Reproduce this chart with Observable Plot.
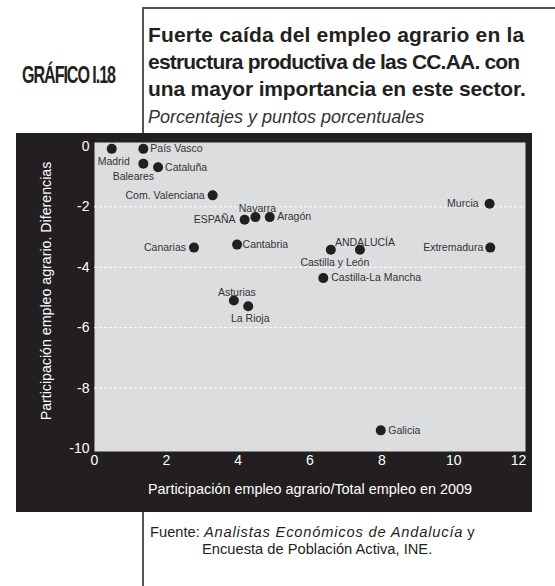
<!DOCTYPE html>
<html>
<head>
<meta charset="utf-8">
<script src="https://cdn.jsdelivr.net/npm/d3@7"></script>
<script src="https://cdn.jsdelivr.net/npm/@observablehq/plot@0.6"></script>
<style>
  html, body { margin: 0; padding: 0; background: #ffffff; }
  body { width: 555px; height: 586px; position: relative; overflow: hidden; font-family: "Liberation Sans", Arial, sans-serif; }
  .abs { position: absolute; }
  #box { left: 142px; top: 7px; width: 500px; height: 126px; border-left: 2px solid #555; border-top: 2px solid #555; }
  #boxb { left: 142px; top: 512px; width: 2px; height: 74px; background: #555; }
  #num { left: 22px; top: 60px; font-weight: bold; font-size: 23px; line-height: 30px; color: #231f20; letter-spacing: -1.5px; transform: scaleX(0.7); transform-origin: left center; white-space: nowrap; }
  #title { left: 148px; top: 21px; font-size: 21px; font-weight: bold; line-height: 27px; color: #231f20; white-space: nowrap; }
  #sub { font-style: italic; font-weight: normal; font-size: 18px; color: #333; }
  #panel { left: 16px; top: 133px; width: 516px; height: 379px; background: #231f20; }
  .cap { font-size: 14.7px; line-height: 17px; color: #231f20; white-space: nowrap; }
  .cap i { letter-spacing: 0.8px; }
</style>
</head>
<body>
<div id="box" class="abs"></div>
<div id="boxb" class="abs"></div>
<div id="num" class="abs">GRÁFICO I.18</div>
<div id="title" class="abs"><span style="letter-spacing:0.17px">Fuerte caída del empleo agrario en la</span><br><span style="letter-spacing:-0.8px">estructura productiva de las CC.AA. con</span><br><span style="letter-spacing:-0.14px">una mayor importancia en este sector.</span><br><span id="sub">Porcentajes y puntos porcentuales</span></div>
<div id="panel" class="abs"></div>
<div class="abs cap" style="left:150px; top:524px;">Fuente: <i>Analistas Económicos de Andalucía</i> y</div>
<div class="abs cap" style="left:202px; top:541px;">Encuesta de Población Activa, INE.</div>
<script>
// ---- Data ----
const regions = ["Madrid","País Vasco","Baleares","Cataluña","Com. Valenciana","ESPAÑA","Navarra","Aragón","Canarias","Cantabria","Asturias","La Rioja","Murcia","Extremadura","Castilla y León","ANDALUCÍA","Castilla-La Mancha","Galicia"];
const share2009 = [0.48,1.36,1.36,1.77,3.29,4.18,4.48,4.88,2.77,3.97,3.88,4.28,11.0,11.02,6.58,7.39,6.37,7.97];
const change = [-0.08,-0.08,-0.57,-0.69,-1.62,-2.43,-2.34,-2.34,-3.35,-3.25,-5.10,-5.29,-1.90,-3.35,-3.42,-3.42,-4.36,-9.40];
const xTicks = [0,2,4,6,8,10];
const xTickLast = [12];
const yTicks = [0,-2,-4,-6,-8,-10];
const gridY = [-2,-4,-6,-8];
const xTitle = "Participación empleo agrario/Total empleo en 2009";
const yTitle = "Participación empleo agrario. Diferencias";

// ---- Label placement (style, not data): [textAnchor, dx, dy] ----
const labelStyle = [
  ["middle",2,12.5],["start",7,0],["middle",-10,12.5],["start",7,0],["end",-8,0],["end",-9,0],
  ["middle",2,-8],["start",7.5,0],["end",-8,0],["start",5.5,0],["middle",3,-8],["middle",2,12.5],
  ["end",-11,0],["end",-7,0],["middle",4,12.5],["middle",5,-7],["start",8,0],["start",7.5,0]
];

const table = regions.map((name, i) => ({name, x: share2009[i], y: change[i], anchor: labelStyle[i][0], dx: labelStyle[i][1], dy: labelStyle[i][2]}));

// One text mark per label so each can carry its own offset
const labels = table.map(d => Plot.text([d], {x: "x", y: "y", text: "name", textAnchor: d.anchor, dx: d.dx, dy: d.dy, fill: "#333", fontSize: 10.5}));

const chart = Plot.plot({
  width: 516,
  height: 379,
  marginLeft: 78,
  marginTop: 9,
  marginRight: 7,
  marginBottom: 61,
  style: {background: "transparent", color: "white", fontFamily: "'Liberation Sans', Arial, sans-serif", fontSize: "14px", overflow: "visible"},
  x: {domain: [0, 12]},
  y: {domain: [-10.1, 0.13]},
  marks: [
    Plot.frame({fill: "#dcdddf", stroke: null}),
    Plot.ruleY(gridY, {stroke: "white", strokeDasharray: "3,2", strokeWidth: 1}),
    Plot.axisX({ticks: xTicks, tickSize: 0, tickPadding: 4, tickFormat: d => String(d), label: null}),
    Plot.axisX({ticks: xTickLast, tickSize: 0, tickPadding: 4, dx: -7, tickFormat: d => String(d), label: null}),
    Plot.axisY({ticks: yTicks, tickSize: 0, tickPadding: 5, tickFormat: d => String(d), label: null}),
    Plot.text([xTitle], {text: d => d, frameAnchor: "bottom", textAnchor: "middle", lineAnchor: "middle", dy: 38, fontSize: 14.4, fill: "white"}),
    Plot.text([yTitle], {text: d => d, frameAnchor: "left", textAnchor: "middle", lineAnchor: "middle", dx: -48, dy: -6, rotate: -90, fontSize: 14.2, fill: "white"}),
    Plot.dot(table, {x: "x", y: "y", r: 5, fill: "#231f20", stroke: null}),
    ...labels
  ]
});
chart.style.position = "absolute";
chart.style.left = "16px";
chart.style.top = "133px";
document.body.appendChild(chart);
</script>
</body>
</html>
